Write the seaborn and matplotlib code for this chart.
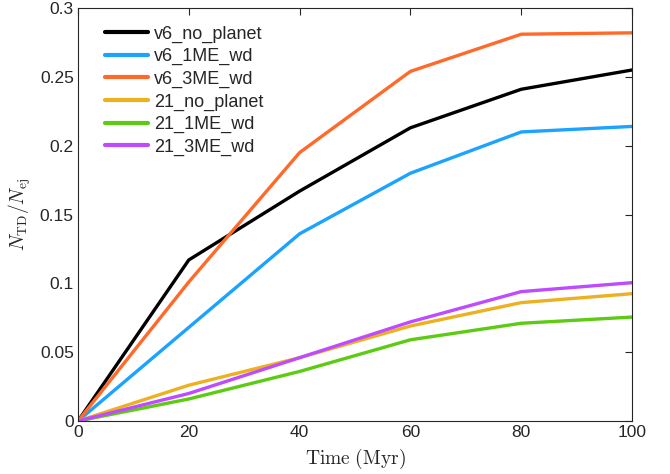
import matplotlib
matplotlib.use("Agg")
import matplotlib.pyplot as plt
import seaborn as sns
import pandas as pd

time = [0, 20, 40, 60, 80, 100]
v6_no_planet = [0, 0.117, 0.167, 0.213, 0.241, 0.255]
v6_1ME_wd = [0, 0.068, 0.136, 0.180, 0.210, 0.214]
v6_3ME_wd = [0, 0.101, 0.195, 0.254, 0.281, 0.282]
s21_no_planet = [0, 0.026, 0.046, 0.069, 0.086, 0.0925]
s21_1ME_wd = [0, 0.016, 0.036, 0.059, 0.071, 0.0755]
s21_3ME_wd = [0, 0.020, 0.046, 0.072, 0.094, 0.1005]

names = ["v6_no_planet", "v6_1ME_wd", "v6_3ME_wd", "21_no_planet", "21_1ME_wd", "21_3ME_wd"]
series = [v6_no_planet, v6_1ME_wd, v6_3ME_wd, s21_no_planet, s21_1ME_wd, s21_3ME_wd]
colors = ["#000000", "#1AA3FF", "#FF6A2A", "#EDB120", "#5CCB12", "#BE4BFF"]

rows = []
for n, s in zip(names, series):
    for t, v in zip(time, s):
        rows.append({"time": t, "value": v, "run": n})
df = pd.DataFrame(rows)

sns.set_style("white")
plt.rcParams["font.family"] = ["Liberation Sans", "DejaVu Sans"]
plt.rcParams["mathtext.fontset"] = "cm"

fig = plt.figure(figsize=(6.7, 4.74), dpi=100)
ax = fig.add_axes([0.1164, 0.1118, 0.9433 - 0.1164, 0.983 - 0.1118])
sns.lineplot(data=df, x="time", y="value", hue="run", hue_order=names,
             palette=dict(zip(names, colors)), linewidth=2.4, ax=ax, legend=True)

ax.set_xlim(0, 100)
ax.set_ylim(0, 0.3)
ax.set_xticks([0, 20, 40, 60, 80, 100])
ax.set_yticks([0, 0.05, 0.1, 0.15, 0.2, 0.25, 0.3])
ax.set_yticklabels(["0", "0.05", "0.1", "0.15", "0.2", "0.25", "0.3"])
ax.tick_params(direction="in", top=True, right=True, length=5, width=0.8,
               labelsize=12.5, colors="#262626", pad=3)
for sp in ax.spines.values():
    sp.set_color("#262626")
    sp.set_linewidth(0.8)

ax.set_xlabel(r"$\mathrm{Time\ (Myr)}$", fontsize=14, labelpad=5, color="#262626")
ax.set_ylabel(r"$N_{\mathrm{TD}}/N_{\mathrm{ej}}$", fontsize=14, labelpad=5, color="#262626")

leg = ax.legend(loc="upper left", frameon=False, fontsize=13, handlelength=2.4,
                handletextpad=0.35, labelspacing=0.3, borderaxespad=0.0,
                bbox_to_anchor=(0.035, 0.975))
for h in leg.get_lines():
    h.set_linewidth(3)

fig.savefig("out.png", dpi=100)
